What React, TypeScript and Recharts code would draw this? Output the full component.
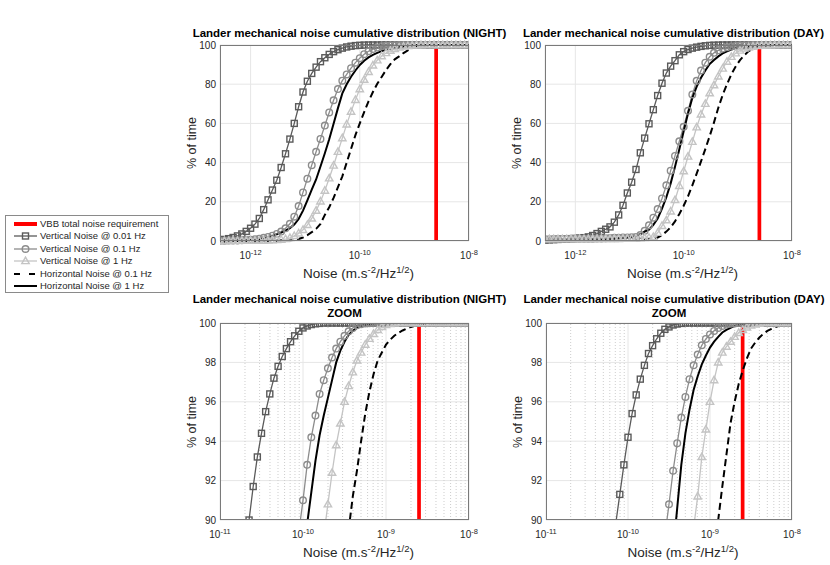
import React from "react";
import { LineChart, Line, XAxis, YAxis, CartesianGrid, ReferenceLine } from "recharts";

const FONT = "'Liberation Sans', Arial, Helvetica, sans-serif";
const INK = "#262626";

// VBB total noise requirement (m.s-2/Hz1/2)
const VBB_REQUIREMENT = 2.5e-9;

// full range panels: log10 of the noise level
const FULL_GRID = [
  -12.56, -12.48, -12.4, -12.32, -12.24, -12.16, -12.08, -12.0, -11.92, -11.84,
  -11.76, -11.68, -11.6, -11.52, -11.44, -11.36, -11.28, -11.2, -11.12, -11.04,
  -10.96, -10.88, -10.8, -10.72, -10.64, -10.56, -10.48, -10.4, -10.32, -10.24,
  -10.16, -10.08, -10.0, -9.92, -9.84, -9.76, -9.68, -9.6, -9.52, -9.44,
  -9.36, -9.28, -9.2, -9.12, -9.04, -8.96, -8.88, -8.8, -8.72, -8.64,
  -8.56, -8.48, -8.4, -8.32, -8.24, -8.16, -8.08, -8.0,
];

// NIGHT, % of time below the noise level
const NIGHT_V001 = [
  0.5, 0.8, 1.2, 1.8, 2.6, 3.6, 4.9, 6.5, 8.6, 11.5,
  16.0, 21.0, 26.0, 31.0, 37.5, 44.5, 52.0, 60.0, 68.5, 76.0,
  81.5, 85.5, 88.7, 91.5, 93.5, 95.2, 96.6, 97.6, 98.4, 99.0,
  99.4, 99.7, 99.85, 99.95, 100, 100, 100, 100, 100, 100,
  100, 100, 100, 100, 100, 100, 100, 100, 100, 100,
  100, 100, 100, 100, 100, 100, 100, 100,
];
const NIGHT_V01 = [
  0.1, 0.1, 0.2, 0.2, 0.3, 0.4, 0.5, 0.7, 0.9, 1.2,
  1.6, 2.1, 2.7, 3.6, 4.8, 6.5, 8.8, 12.4, 17.8, 24.8,
  31.8, 38.7, 45.5, 52.1, 58.9, 65.6, 71.8, 77.5, 81.8, 85.0,
  88.2, 91.0, 93.3, 95.3, 96.8, 97.9, 98.7, 99.3, 99.6, 99.8,
  99.9, 99.95, 100, 100, 100, 100, 100, 100, 100, 100,
  100, 100, 100, 100, 100, 100, 100, 100,
];
const NIGHT_V1 = [
  0, 0, 0, 0.1, 0.1, 0.1, 0.1, 0.1, 0.1, 0.1,
  0.2, 0.3, 0.4, 0.5, 0.7, 1.0, 1.6, 2.6, 3.9, 5.7,
  8.2, 11.5, 15.5, 20.2, 25.7, 32.0, 38.5, 45.5, 52.5, 59.5,
  66.0, 72.0, 77.5, 82.3, 86.3, 89.6, 92.2, 94.3, 95.9, 97.1,
  98.0, 98.7, 99.2, 99.5, 99.75, 99.9, 99.95, 100, 100, 100,
  100, 100, 100, 100, 100, 100, 100, 100,
];
const NIGHT_H01 = [
  0, 0, 0, 0, 0, 0, 0, 0, 0, 0,
  0, 0, 0, 0.1, 0.2, 0.3, 0.4, 0.6, 1.0, 1.8,
  3.0, 4.5, 6.2, 8.7, 13.3, 17.2, 22.0, 27.5, 33.0, 40.0,
  47.0, 54.0, 60.0, 65.8, 71.2, 76.0, 80.2, 83.7, 87.2, 90.2,
  92.7, 94.2, 95.9, 97.3, 98.4, 99.2, 99.6, 99.85, 99.95, 100,
  100, 100, 100, 100, 100, 100, 100, 100,
];
const NIGHT_H1 = [
  0, 0, 0.1, 0.1, 0.2, 0.3, 0.4, 0.5, 0.7, 1.0,
  1.4, 1.9, 2.6, 3.4, 4.3, 5.3, 6.6, 8.4, 11.2, 15.5,
  20.7, 26.2, 31.4, 38.0, 44.8, 51.9, 59.8, 67.8, 75.3, 80.0,
  83.8, 87.0, 89.8, 92.0, 93.7, 95.0, 96.0, 96.9, 97.6, 98.2,
  98.7, 99.1, 99.5, 99.75, 99.9, 99.95, 100, 100, 100, 100,
  100, 100, 100, 100, 100, 100, 100, 100,
];

// DAY
const DAY_V001 = [
  0.5, 0.6, 0.7, 0.8, 0.9, 1.0, 1.2, 1.3, 1.5, 1.7,
  2.1, 2.8, 3.8, 4.9, 6.0, 7.2, 9.6, 13.3, 18.2, 24.5,
  30.0, 36.5, 45.0, 52.5, 59.8, 67.0, 74.2, 80.5, 85.7, 89.2,
  92.0, 95.0, 96.6, 97.7, 98.4, 98.9, 99.3, 99.6, 99.8, 99.9,
  99.95, 100, 100, 100, 100, 100, 100, 100, 100, 100,
  100, 100, 100, 100, 100, 100, 100, 100,
];
const DAY_V01 = [
  0.9, 0.9, 1.0, 1.0, 1.0, 1.0, 1.1, 1.1, 1.1, 1.1,
  1.2, 1.2, 1.3, 1.3, 1.4, 1.5, 1.6, 1.7, 1.8, 1.8,
  1.9, 2.1, 3.0, 5.2, 8.0, 11.9, 16.3, 21.7, 28.4, 35.9,
  43.4, 50.9, 58.3, 66.4, 74.8, 81.7, 87.0, 91.0, 94.0, 96.0,
  97.3, 98.2, 98.8, 99.2, 99.5, 99.7, 99.8, 99.9, 99.95, 100,
  100, 100, 100, 100, 100, 100, 100, 100,
];
const DAY_V1 = [
  1.0, 1.0, 1.0, 1.0, 1.0, 1.0, 1.0, 1.0, 1.0, 1.0,
  1.0, 1.0, 1.0, 1.1, 1.1, 1.1, 1.1, 1.1, 1.2, 1.2,
  1.2, 1.3, 1.4, 1.5, 1.7, 2.1, 4.2, 7.7, 10.6, 15.1,
  20.9, 28.1, 35.6, 43.1, 50.6, 58.0, 64.6, 70.0, 75.4, 79.5,
  84.0, 88.0, 91.5, 94.0, 95.8, 97.2, 98.2, 98.8, 99.2, 99.5,
  99.7, 99.8, 99.9, 99.95, 100, 100, 100, 100,
];
const DAY_H01 = [
  0, 0, 0, 0, 0, 0, 0, 0, 0, 0,
  0, 0, 0, 0, 0, 0, 0, 0, 0, 0,
  0.1, 0.2, 0.4, 0.6, 0.9, 1.2, 1.8, 3.0, 4.8, 7.0,
  10.0, 13.8, 18.0, 22.8, 28.4, 34.4, 40.6, 46.9, 53.5, 60.5,
  68.0, 74.5, 80.0, 85.0, 89.0, 92.3, 94.8, 96.9, 98.0, 98.8,
  99.3, 99.6, 99.8, 99.9, 99.95, 100, 100, 100,
];
const DAY_H1 = [
  0, 0, 0.1, 0.1, 0.1, 0.2, 0.2, 0.2, 0.2, 0.3,
  0.4, 0.5, 0.6, 0.7, 0.8, 1.0, 1.2, 1.4, 1.6, 1.8,
  2.1, 2.7, 3.5, 4.8, 5.8, 8.2, 11.5, 16.5, 22.3, 29.4,
  37.9, 46.8, 56.0, 65.0, 73.0, 78.8, 83.3, 87.0, 90.3, 92.3,
  94.2, 95.7, 96.8, 97.7, 98.4, 98.9, 99.3, 99.55, 99.75, 99.85,
  99.92, 99.96, 100, 100, 100, 100, 100, 100,
];

// zoom panels: finer log10 grid, each series listed from its start exponent
const ZOOM_GRID = [
  -11.0, -10.95, -10.9, -10.85, -10.8, -10.75, -10.7, -10.65, -10.6, -10.55,
  -10.5, -10.45, -10.4, -10.35, -10.3, -10.25, -10.2, -10.15, -10.1, -10.05,
  -10.0, -9.95, -9.9, -9.85, -9.8, -9.75, -9.7, -9.65, -9.6, -9.55,
  -9.5, -9.45, -9.4, -9.35, -9.3, -9.25, -9.2, -9.15, -9.1, -9.05,
  -9.0, -8.95, -8.9, -8.85, -8.8, -8.75, -8.7, -8.65, -8.6, -8.55,
  -8.5, -8.45, -8.4, -8.35, -8.3, -8.25, -8.2, -8.15, -8.1, -8.05,
  -8.0,
];

// start exponents: v001, v01, v1, h01, h1
const ZOOM_NIGHT_START = [-10.7, -10.1, -9.8, -9.5, -10.0];
const ZOOM_DAY_START = [-10.2, -9.6, -9.25, -8.95, -9.5];

const ZN_V001 = [
  88.4, 90.0, 91.7, 93.2, 94.4, 95.5, 96.4, 97.2, 97.8, 98.3,
  98.7, 99.05, 99.35, 99.58, 99.75, 99.85, 99.92, 99.96, 99.98, 100,
  100, 100, 100, 100, 100, 100, 100, 100, 100, 100,
  100, 100, 100, 100, 100, 100, 100, 100, 100, 100,
  100, 100, 100, 100, 100, 100, 100, 100, 100, 100,
  100, 100, 100, 100, 100,
];
const ZN_V01 = [
  87.5, 89.4, 91.0, 92.8, 94.2, 95.3, 96.4, 97.1, 97.7, 98.25,
  98.7, 99.05, 99.35, 99.58, 99.75, 99.88, 99.94, 99.97, 99.99, 100,
  100, 100, 100, 100, 100, 100, 100, 100, 100, 100,
  100, 100, 100, 100, 100, 100, 100, 100, 100, 100,
  100, 100, 100,
];
const ZN_V1 = [
  87.5, 89.2, 90.8, 92.4, 93.8, 94.9, 96.0, 96.8, 97.5, 98.1,
  98.5, 98.9, 99.2, 99.45, 99.65, 99.8, 99.9, 99.95, 99.98, 100,
  100, 100, 100, 100, 100, 100, 100, 100, 100, 100,
  100, 100, 100, 100, 100, 100, 100,
];
const ZN_H01 = [
  87.8, 89.5, 91.2, 92.5, 94.0, 95.4, 96.5, 97.4, 98.1, 98.5,
  98.9, 99.15, 99.35, 99.5, 99.62, 99.72, 99.8, 99.86, 99.9, 99.94,
  99.97, 99.99, 100, 100, 100, 100, 100, 100, 100, 100,
  100,
];
const ZN_H1 = [
  88.0, 89.8, 91.4, 93.0, 94.3, 95.3, 96.2, 97.1, 98.0, 98.6,
  99.05, 99.4, 99.6, 99.75, 99.85, 99.91, 99.94, 99.97, 99.99, 100,
  100, 100, 100, 100, 100, 100, 100, 100, 100, 100,
  100, 100, 100, 100, 100, 100, 100, 100, 100, 100,
  100,
];

const ZD_V001 = [
  88.2, 89.8, 91.3, 92.8, 94.2, 95.4, 96.35, 97.15, 97.85, 98.45,
  98.85, 99.2, 99.48, 99.68, 99.8, 99.9, 99.95, 99.98, 100, 100,
  100, 100, 100, 100, 100, 100, 100, 100, 100, 100,
  100, 100, 100, 100, 100, 100, 100, 100, 100, 100,
  100, 100, 100, 100, 100,
];
const ZD_V01 = [
  87.5, 89.2, 90.8, 92.5, 93.9, 95.2, 96.25, 97.15, 97.85, 98.4,
  98.87, 99.19, 99.42, 99.6, 99.75, 99.85, 99.92, 99.96, 99.98, 100,
  100, 100, 100, 100, 100, 100, 100, 100, 100, 100,
  100, 100, 100,
];
const ZD_V1 = [
  87.8, 89.6, 91.2, 93.2, 94.6, 96.0, 97.1, 98.0, 98.5, 98.8,
  99.05, 99.3, 99.5, 99.65, 99.78, 99.87, 99.93, 99.97, 100, 100,
  100, 100, 100, 100, 100, 100,
];
const ZD_H01 = [
  88.3, 90.0, 91.7, 93.3, 94.9, 96.0, 96.9, 97.6, 98.2, 98.7,
  99.0, 99.25, 99.45, 99.6, 99.7, 99.8, 99.87, 99.92, 99.96, 100,
];
const ZD_H1 = [
  86.0, 88.4, 90.6, 92.8, 94.4, 95.6, 96.6, 97.3, 97.9, 98.35,
  98.75, 99.05, 99.3, 99.52, 99.65, 99.75, 99.85, 99.9, 99.94, 99.97,
  99.99, 100, 100, 100, 100, 100, 100, 100, 100, 100,
  100,
];

const SERIES = [
  { key: "v001", name: "Vertical Noise @ 0.01 Hz", color: "#5a5a5a", marker: "square", width: 1.3 },
  { key: "v01", name: "Vertical Noise @ 0.1 Hz", color: "#8c8c8c", marker: "circle", width: 1.3 },
  { key: "v1", name: "Vertical Noise @ 1 Hz", color: "#c4c4c4", marker: "triangle", width: 1.3 },
  { key: "h01", name: "Horizontal Noise @ 0.1 Hz", color: "#000000", dash: "7 4", width: 2 },
  { key: "h1", name: "Horizontal Noise @ 1 Hz", color: "#000000", width: 2 },
];

function fullRows(cols: number[][]) {
  return FULL_GRID.map((x, i) => {
    const row: any = { x };
    SERIES.forEach((s, j) => (row[s.key] = cols[j][i]));
    return row;
  });
}

function zoomRows(cols: number[][], starts: number[]) {
  const offsets = starts.map((st) => ZOOM_GRID.findIndex((g) => Math.abs(g - st) < 1e-6));
  return ZOOM_GRID.map((x, i) => {
    const row: any = { x };
    SERIES.forEach((s, j) => {
      const k = i - offsets[j];
      row[s.key] = k >= 0 && k < cols[j].length ? cols[j][k] : null;
    });
    return row;
  });
}

const NIGHT_ROWS = fullRows([NIGHT_V001, NIGHT_V01, NIGHT_V1, NIGHT_H01, NIGHT_H1]);
const DAY_ROWS = fullRows([DAY_V001, DAY_V01, DAY_V1, DAY_H01, DAY_H1]);
const ZOOM_NIGHT_ROWS = zoomRows([ZN_V001, ZN_V01, ZN_V1, ZN_H01, ZN_H1], ZOOM_NIGHT_START);
const ZOOM_DAY_ROWS = zoomRows([ZD_V001, ZD_V01, ZD_V1, ZD_H01, ZD_H1], ZOOM_DAY_START);

const REQ_ROWS = [
  { x: Math.log10(VBB_REQUIREMENT), req: 0 },
  { x: Math.log10(VBB_REQUIREMENT), req: 100 },
];

const MINOR_X = [-11, -10, -9].flatMap((n) => [2, 3, 4, 5, 6, 7, 8, 9].map((k) => n + Math.log10(k)));

function Marker({ kind, cx, cy, color }: { kind: string; cx: number; cy: number; color: string }) {
  if (kind === "square")
    return <rect x={cx - 3} y={cy - 3} width={6} height={6} fill="none" stroke={color} strokeWidth={1.4} />;
  if (kind === "circle") return <circle cx={cx} cy={cy} r={3.3} fill="none" stroke={color} strokeWidth={1.4} />;
  return (
    <polygon
      points={`${cx},${cy - 3.9} ${cx + 3.7},${cy + 2.6} ${cx - 3.7},${cy + 2.6}`}
      fill="none"
      stroke={color}
      strokeWidth={1.4}
    />
  );
}

function makeDot(kind: string, color: string, yMin: number) {
  return (p: any) => {
    const { cx, cy, index, value } = p;
    if (cx == null || cy == null || value == null || value < yMin) return <g key={`n${index}`} />;
    return (
      <g key={`d${index}`}>
        <Marker kind={kind} cx={cx} cy={cy} color={color} />
      </g>
    );
  };
}

const PowTick = (props: any) => {
  const { x, y, payload } = props;
  return (
    <text x={x} y={y + 18} textAnchor="middle" fontSize={10} fill={INK} fontFamily={FONT}>
      10
      <tspan dy={-4.5} fontSize={7.5}>
        {payload.value}
      </tspan>
    </text>
  );
};

function Panel({
  left,
  top,
  w,
  h,
  rows,
  xDomain,
  xTicks,
  yDomain,
  yTicks,
  zoom,
  title,
}: {
  left: number;
  top: number;
  w: number;
  h: number;
  rows: any[];
  xDomain: number[];
  xTicks: number[];
  yDomain: number[];
  yTicks: number[];
  zoom?: boolean;
  title: string;
}) {
  const cx = left + w / 2;
  return (
    <>
      <div style={{ position: "absolute", left: left - 60, top: top - 5 }}>
        <LineChart width={w + 80} height={h + 40} data={rows} margin={{ top: 5, right: 20, bottom: 5, left: 0 }}>
          <CartesianGrid stroke="#e6e6e6" strokeWidth={1} />
          {zoom &&
            MINOR_X.map((v) => (
              <ReferenceLine key={v} x={v} stroke="#cdcdcd" strokeDasharray="1 2" strokeWidth={1} />
            ))}
          <XAxis
            dataKey="x"
            type="number"
            domain={xDomain}
            ticks={xTicks}
            interval={0}
            allowDataOverflow
            height={30}
            tickSize={0}
            tickMargin={0}
            axisLine={false}
            tickLine={false}
            tick={<PowTick />}
          />
          <YAxis
            type="number"
            domain={yDomain}
            ticks={yTicks}
            interval={0}
            allowDataOverflow={!!zoom}
            width={60}
            tickSize={4}
            tickMargin={0}
            axisLine={false}
            tickLine={false}
            tick={{ fontSize: 10, fill: INK, fontFamily: FONT }}
          />
          <Line
            data={REQ_ROWS}
            dataKey="req"
            stroke="#ff0000"
            strokeWidth={3.7}
            dot={false}
            activeDot={false}
            isAnimationActive={false}
          />
          {SERIES.map((s) => (
            <Line
              key={s.key}
              dataKey={s.key}
              type="linear"
              stroke={s.color}
              strokeWidth={s.width}
              strokeDasharray={s.dash}
              dot={s.marker ? makeDot(s.marker, s.color, yDomain[0]) : false}
              activeDot={false}
              isAnimationActive={false}
            />
          ))}
        </LineChart>
      </div>
      <div
        style={{
          position: "absolute",
          left,
          top,
          width: w,
          height: h,
          border: "1px solid #7a7a7a",
          boxSizing: "border-box",
          pointerEvents: "none",
        }}
      />
      <div
        style={{
          position: "absolute",
          left: cx + 5,
          top: zoom ? top - 30 : top - 18,
          transform: "translateX(-50%)",
          whiteSpace: "nowrap",
          fontFamily: FONT,
          fontWeight: "bold",
          fontSize: 11.5,
          lineHeight: "13px",
          color: "#000",
        }}
      >
        {title}
      </div>
      {zoom && (
        <div
          style={{
            position: "absolute",
            left: cx,
            top: top - 16,
            transform: "translateX(-50%)",
            fontFamily: FONT,
            fontWeight: "bold",
            fontSize: 11.5,
            lineHeight: "13px",
          }}
        >
          ZOOM
        </div>
      )}
      <div
        style={{
          position: "absolute",
          left: left - 28,
          top: top + h / 2,
          transform: "translate(-50%, -50%) rotate(-90deg)",
          whiteSpace: "nowrap",
          fontFamily: FONT,
          fontSize: 12.5,
          color: INK,
        }}
      >
        % of time
      </div>
      <div
        style={{
          position: "absolute",
          left: cx + 14,
          top: top + h + 31,
          transform: "translate(-50%, -50%)",
          whiteSpace: "nowrap",
          fontFamily: FONT,
          fontSize: 13.5,
          lineHeight: "14px",
          color: INK,
        }}
      >
        Noise (m.s<sup style={{ fontSize: 9.5 }}>-2</sup>/Hz<sup style={{ fontSize: 9.5 }}>1/2</sup>)
      </div>
    </>
  );
}

function LegendIcon({ s }: { s: any }) {
  return (
    <svg width={26} height={10} style={{ position: "absolute", left: 7, top: 1 }}>
      <line
        x1={1}
        y1={5}
        x2={24}
        y2={5}
        stroke={s.color}
        strokeWidth={s.width}
        strokeDasharray={s.dash ? "6 9" : undefined}
      />
      {s.marker && <Marker kind={s.marker} cx={12.5} cy={5} color={s.color} />}
    </svg>
  );
}

function SharedLegend() {
  const items = [{ key: "req", name: "VBB total noise requirement", color: "#ff0000", width: 4 }, ...SERIES];
  return (
    <div
      style={{
        position: "absolute",
        left: 5,
        top: 215,
        width: 164,
        height: 78,
        border: "1px solid #8a8a8a",
        boxSizing: "border-box",
        background: "#fff",
      }}
    >
      {items.map((s, i) => (
        <div key={s.key} style={{ position: "absolute", left: 0, top: 2 + i * 12.4, height: 12, width: 160 }}>
          <LegendIcon s={s} />
          <span
            style={{
              position: "absolute",
              left: 34,
              top: 0,
              fontFamily: FONT,
              fontSize: 9.5,
              lineHeight: "12px",
              color: INK,
              whiteSpace: "nowrap",
            }}
          >
            {s.name}
          </span>
        </div>
      ))}
    </div>
  );
}

export default function App() {
  return (
    <div style={{ position: "absolute", left: 0, top: 0, width: 830, height: 565, background: "#fff" }}>
      <Panel
        left={220}
        top={45}
        w={249}
        h={196}
        rows={NIGHT_ROWS}
        xDomain={[-12.56, -8]}
        xTicks={[-12, -10, -8]}
        yDomain={[0, 100]}
        yTicks={[0, 20, 40, 60, 80, 100]}
        title="Lander mechanical noise cumulative distribution (NIGHT)"
      />
      <Panel
        left={545}
        top={45}
        w={247}
        h={196}
        rows={DAY_ROWS}
        xDomain={[-12.56, -8]}
        xTicks={[-12, -10, -8]}
        yDomain={[0, 100]}
        yTicks={[0, 20, 40, 60, 80, 100]}
        title="Lander mechanical noise cumulative distribution (DAY)"
      />
      <Panel
        left={220}
        top={323}
        w={249}
        h={197}
        rows={ZOOM_NIGHT_ROWS}
        xDomain={[-11, -8]}
        xTicks={[-11, -10, -9, -8]}
        yDomain={[90, 100]}
        yTicks={[90, 92, 94, 96, 98, 100]}
        zoom
        title="Lander mechanical noise cumulative distribution (NIGHT)"
      />
      <Panel
        left={546}
        top={323}
        w={246}
        h={197}
        rows={ZOOM_DAY_ROWS}
        xDomain={[-11, -8]}
        xTicks={[-11, -10, -9, -8]}
        yDomain={[90, 100]}
        yTicks={[90, 92, 94, 96, 98, 100]}
        zoom
        title="Lander mechanical noise cumulative distribution (DAY)"
      />
      <SharedLegend />
    </div>
  );
}
